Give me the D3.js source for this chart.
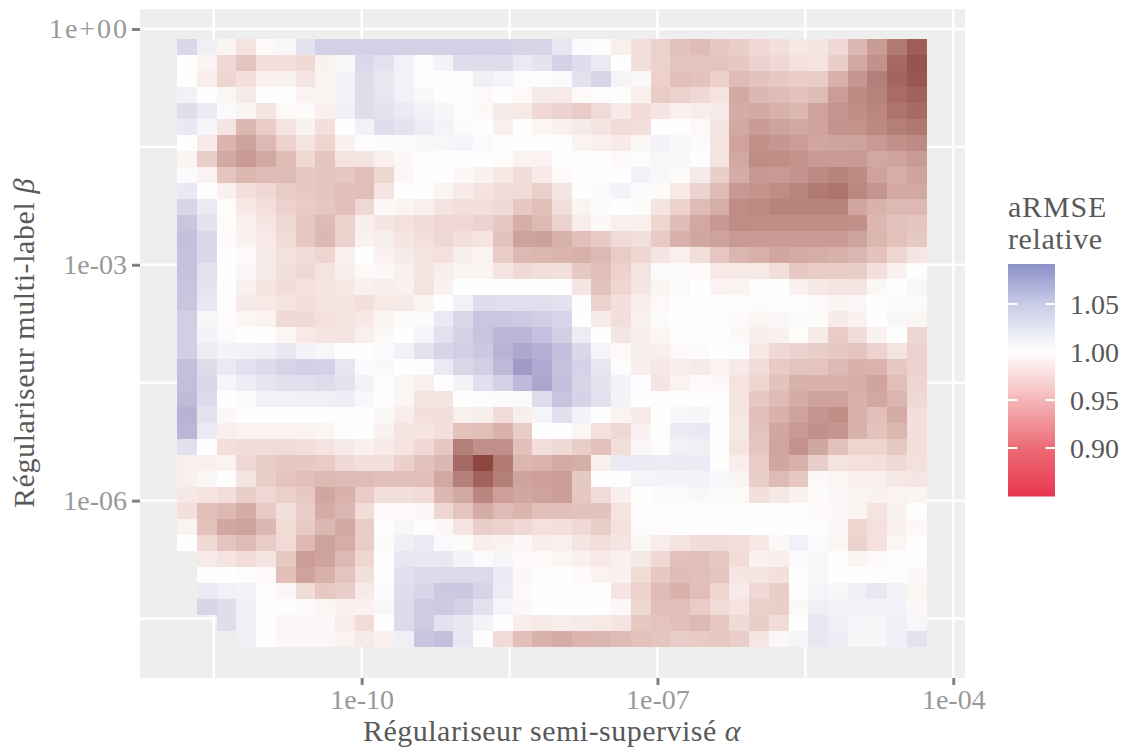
<!DOCTYPE html>
<html>
<head>
<meta charset="utf-8">
<script src="https://cdn.jsdelivr.net/npm/d3@7"></script>
<style>
	html, body { margin: 0; padding: 0; background: #fff; }
	text { font-family: "Liberation Serif", serif; }
</style>
</head>
<body>
<div id="chart"></div>
<script>
"use strict";

// log10 of the two regularisers, one entry per column / row of the heatmap
var alphaExp = [-11.77,-11.57,-11.37,-11.17,-10.97,-10.77,-10.57,-10.37,-10.17,-9.97,-9.77,-9.57,-9.37,-9.17,-8.97,-8.77,-8.57,-8.37,-8.17,-7.97,-7.77,-7.57,-7.37,-7.17,-6.97,-6.77,-6.57,-6.37,-6.17,-5.97,-5.77,-5.57,-5.37,-5.17,-4.97,-4.77,-4.57,-4.37];
var betaExp = [-0.23,-0.43,-0.64,-0.84,-1.04,-1.25,-1.45,-1.65,-1.86,-2.06,-2.26,-2.47,-2.67,-2.87,-3.08,-3.28,-3.49,-3.69,-3.89,-4.1,-4.3,-4.5,-4.71,-4.91,-5.11,-5.32,-5.52,-5.72,-5.93,-6.13,-6.33,-6.54,-6.74,-6.94,-7.15,-7.35,-7.55,-7.76];

// relative aRMSE, written as percent above/below 1.00. null = no cell
var armseGap = [
[3.2,1.2,-0.8,-2.2,-0.4,0.5,2.3,3.8,3.8,3.8,3.8,3.8,3.8,3.8,3.8,3.8,3.8,3.5,3.5,2,0.3,0,-1.2,-2.5,-3.5,-4.8,-5.2,-4.2,-3.8,-3,-2.5,-1.8,-1.9,-3,-5.5,-7.5,-10.5,-13],
[0,-0.8,-3,-4.5,-2.6,-2.5,-3,-1,0.5,3.1,2.3,1.1,0.2,0.9,2.7,2.8,2.7,1.7,2.2,3.7,2.8,1.7,0,-2.5,-3.6,-4.5,-4.6,-4.6,-4.2,-3.4,-3,-2.3,-2.2,-3.8,-6.6,-8.5,-12,-13.8],
[0,-1.4,-3.3,-2.4,-1.1,-1,-2,-0.9,1,2.7,1.8,0.9,0.1,0,0,1.2,0.8,0.2,-0.1,0.4,2.3,3.5,0.8,-0.5,-3.6,-5,-4.7,-3.7,-5.2,-4.7,-4.3,-3.9,-4,-6,-8,-10,-12.3,-13.5],
[1.1,0,-0.7,-1.5,0,0,-0.9,-0.8,0.9,2.7,2,1.1,0.5,0.1,-0.1,-0.4,0,-0.4,-1.5,-1.7,-0.4,0.2,0.1,-1.2,-4,-3.5,-3,-2.2,-6.5,-5.5,-5.2,-4.8,-5.3,-7.4,-9,-9.8,-11.7,-12.6],
[2.7,1.6,0.3,-0.8,-2,-0.4,-0.3,-1.1,1.2,2.7,2.3,1.7,1.1,0.7,0.2,-0.5,-1.5,-1.7,-3,-3.4,-4,-2.8,-1.6,-2.7,-1.9,-1.1,-1.4,-1.5,-6.3,-6.5,-6,-5.5,-7,-8.1,-8.7,-9.4,-11,-11.8],
[1.8,0.7,-2,-5.5,-4,-2.2,-1,-2.4,0,1.1,2.7,2.2,1.5,0.9,0.3,0,-1.2,0,-0.7,-1.1,-1.5,-2.1,-2.7,-2.4,0,0,-0.4,-1.9,-6.6,-7.5,-7,-6.6,-6.9,-8.2,-8.4,-9.2,-10,-10.6],
[0,-1.6,-5.8,-7,-5.4,-3.6,-2.2,-3.3,-1,0.2,0.3,0.4,0.5,0.6,0.8,0.4,0.1,0,0,-0.1,-0.9,-1.2,-1.6,-0.6,1,0.5,0.3,-2.1,-7,-8.5,-7.9,-7.4,-6.8,-6.9,-7,-7.7,-8.5,-9],
[-0.8,-3.8,-6.5,-7.6,-6.6,-5.2,-3,-4.5,-2.2,-2,-1.2,-0.5,-0.2,0,0,0,-0.2,-0.9,-0.9,-0.1,0,0,-0.4,0.2,0.6,0.5,-0.1,-2.1,-6.6,-8.8,-8.7,-8.3,-7.6,-7.6,-7.7,-6.6,-6.9,-7.6],
[0.3,-0.9,-4.5,-5.6,-5.3,-5.3,-4.2,-4.5,-4.4,-5,-3.2,-0.6,-0.1,0,-0.5,-1,-1.8,-2.7,-1.6,-0.4,0,0.2,0,1,0.5,-0.3,-1.5,-3.8,-6.3,-7.8,-7.7,-8.2,-9,-9.7,-8.9,-7,-6.2,-6.9],
[1.8,0,-1.1,-2.4,-3,-4,-4.3,-4.5,-5,-5.1,-2.1,0,0,-0.8,-1.6,-2.2,-2.7,-2.7,-3.7,-2,0,0.4,0.9,0.3,-0.3,-1.7,-3.4,-5.3,-7.8,-8.3,-8.8,-9.5,-10.5,-11,-9.3,-8,-6.5,-6.6],
[3.4,1.7,-0.2,-1.8,-2.5,-3.6,-4,-4.4,-5.1,-3.1,-0.5,-0.8,-1.2,-2,-2.4,-2.6,-2.9,-4.2,-5.1,-2.6,-0.8,0.3,0,-0.3,-2,-3.6,-5.3,-6.2,-8.8,-9.1,-9.7,-9.7,-9.7,-9.7,-6.8,-5.9,-5.4,-5.4],
[4.6,2.3,-0.2,-1.2,-1.9,-3,-4.4,-5.3,-3.5,-1.3,-1.9,-2.3,-2.7,-3.1,-3,-3.4,-4.3,-6.2,-5.4,-3.5,-1.4,-0.5,-1.2,-1.2,-3.2,-5.2,-6.6,-7.8,-8.8,-8.8,-8.8,-8.8,-8.8,-8.8,-8.5,-5.5,-4.8,-4.5],
[5.2,3.2,-0.3,-1,-1.6,-2.8,-4.4,-5.5,-3.5,-1,-1.3,-2.1,-2.5,-3.1,-2.5,-2.1,-4.7,-7,-7.1,-6,-5,-4.1,-2.8,-2.4,-4.1,-6,-6.7,-7,-7.7,-7.5,-7.5,-7.5,-7.5,-7.5,-6.9,-5.6,-4.9,-4.2],
[5,3.1,0,-0.4,-1.5,-2.3,-2.8,-3.3,-1.1,0,-1,-1.5,-2.2,-2.3,-1.3,-0.9,-4,-5.4,-5.6,-5.8,-6,-5.4,-4,-3.2,-2,-1.2,-2.6,-4.4,-5.7,-6,-6.8,-6.4,-6.2,-6,-5.7,-4.7,-3.3,-1.9],
[5,2.4,0,-0.6,-1.5,-2.4,-3,-2.2,-1.3,-0.4,-0.6,-1.1,-2,-1.3,-0.8,-0.8,-2.1,-2.9,-2.6,-2.5,-4.2,-5,-3.6,-2.2,-0.3,0.3,-0.4,-1.7,-1.7,-1.7,-2.6,-4.2,-4,-4,-3.8,-2.4,-1.1,-0.1],
[4.9,2.2,0,-1,-2,-2.7,-2.3,-2,-1.8,-1.1,-1.4,-1.1,-2.2,-1,0,0,0,0,0,0,-1.9,-4.8,-3.2,-1.9,-0.8,0.4,0,-0.9,-0.9,-0.2,0,-1.1,-1.8,-2,-2,-0.6,0,0.6],
[4.6,1.9,-0.1,-1.5,-1.7,-2.2,-2.6,-2.2,-1.9,-2.4,-1.7,-1.7,-0.8,0,1.1,2.8,2.6,2.6,2.6,2.3,-0.1,-3.5,-2.4,-1.3,-0.4,0,0,-0.1,-0.2,-0.2,-0.1,-0.1,-0.4,-0.8,-0.6,0,0.3,0.3],
[4,0.6,-0.2,-0.7,-0.9,-2.9,-2.9,-2.3,-2,-1.8,-0.8,-0.3,0.3,1.7,3.2,4.7,4.6,4.4,4,3.4,0,-1.5,-2.6,-1.1,-0.3,0,0,-0.1,-0.3,-0.7,-0.6,0.3,-0.3,-1.5,-1,0,0.5,-0.7],
[4,0.9,0.4,0,0,-0.7,-1.7,-2.1,-2.1,-1.2,-0.5,0,0.8,2.4,3.7,4.9,5.9,6,5.1,3.9,1.5,0,-1.9,-1.3,-0.7,-0.2,0,0,-0.5,-1.3,-1,-0.2,-1.5,-4,-2.7,-1,0,-3.2],
[4,1.5,0.9,1,1.2,1.8,0.9,0.6,0,0,0.3,1.1,2.3,3.4,3.9,4.5,6.2,7.2,6.5,5.2,3.1,0.8,-0.4,-1.3,-1.2,-0.4,-0.3,0,-0.1,-1.8,-3,-3.4,-3.8,-4.2,-4.6,-3.4,-2.2,-3.6],
[5.2,2.9,1.7,2.4,3,3.5,3.9,3.7,2,0.3,-0.5,0,0.2,1.7,3.2,3.9,5.6,8.3,7,5.1,3.6,2,0.2,-1.3,-1.8,-1.3,-1.5,-0.9,-1.5,-2.7,-4.1,-4.5,-4.6,-5.4,-5.9,-5.8,-4.4,-3.4],
[5.3,3.2,0.7,1.4,2.1,2.5,2.5,2.8,2.3,1,0.1,-0.7,-1.2,0,0.9,2.5,3.8,5.6,7.3,5.2,3.4,2.2,1,0,-1.9,-0.9,-0.4,-0.5,-2.2,-3.3,-4.7,-5.9,-5.9,-5.9,-6.2,-6.9,-5.1,-3.3],
[5.6,3,0,0.3,1.1,1.1,1.2,1.2,1.4,0.5,0,-0.7,-2,-2,0,0.2,0.3,0.4,2.9,4.9,3.6,2.4,0.9,0,0,0,0,0,-2.1,-4.3,-5.3,-6.4,-7,-7,-5.9,-6.6,-5.7,-3],
[6.3,2.3,-0.5,0,0,0,0,0,0,0,-0.5,-1.4,-2.5,-2.6,-1.2,-1.3,-2.7,-1.3,0.8,2.5,1,0,-0.9,-1.5,0,0.5,0.7,0,-1.9,-5,-5.9,-7,-8,-8.7,-6,-5,-6.4,-2.6],
[6,1.7,-1.2,-0.9,-0.9,-0.9,-0.9,-0.7,-0.1,0,-1,-2,-2.1,-2.5,-4.8,-5.1,-5.9,-3.9,0,-0.1,-0.7,-2.3,-3.1,-1.1,0.1,1.6,1.8,0,-1.8,-4.7,-6.7,-7.7,-8.5,-7.9,-6,-4.7,-5.6,-2.5],
[2.5,0,-2.4,-2.7,-2.7,-2.7,-2.5,-2.1,-1.5,-1.1,-1.6,-2.2,-3,-4.4,-10,-8.6,-8.6,-5,-2.6,-2.9,-3.9,-4.9,-2.6,-0.6,0.2,1.1,1.2,0,-2,-4.5,-6.8,-8.4,-6.7,-4.8,-3.3,-3.3,-4.2,-2.4],
[-1.2,-1.2,-0.9,-3.1,-3.9,-4.4,-4.2,-4,-2.9,-2.4,-2.4,-3.7,-4.8,-5.5,-12,-15,-10.5,-5.6,-5.8,-6.4,-6.2,-1.2,1.7,1.6,1.5,1.6,1.6,0,-1.4,-4,-6.8,-6,-3.8,-2.2,-2.3,-2.5,-2.9,-2.3],
[-1.2,-0.6,0,-2,-3.8,-4.6,-5,-5.4,-5.3,-5.2,-5,-5,-5,-6.6,-9.9,-12.6,-10,-6.9,-7.2,-7.4,-4.2,0,0,0.8,0.9,0.9,1,0.5,-0.8,-3.8,-5.3,-4.3,-0.5,-0.7,-1.2,-1.2,-1.8,-1.9],
[-1.8,-2.1,-2.6,-3.8,-3.1,-3.7,-4.2,-6.8,-5.9,-4,-2.5,-2.5,-2.7,-5.5,-6.6,-9.4,-7.2,-6.7,-7,-7.3,-4.4,-2.8,-1.3,0,0.3,0.4,0.5,0.3,-0.4,-2.4,-1.8,-1,-0.3,-0.6,-0.8,-1,-0.9,-0.8],
[-2.5,-5,-5.4,-6.3,-4.1,-2.4,-3.9,-6.3,-5.7,-2.7,-0.4,-0.4,-0.6,-3.2,-4.5,-6.4,-5.3,-5.8,-5,-5,-4.7,-4.7,-2.2,0,0,0,0,0,0,0,0,-0.1,-0.4,-0.5,-0.8,-2.2,-1,0],
[-0.9,-4.7,-6.7,-6.9,-5.5,-2.8,-4.1,-5.5,-6.5,-3.9,0,0.6,0.2,-0.5,-2.1,-3.8,-3.6,-3,-2.3,-2.5,-3,-3.9,-2.3,-0.2,-0.2,-0.1,-0.1,-0.1,0,0,0,0,0,-0.5,-3.2,-2.3,-1.1,-0.5],
[0,-3,-4.5,-5.3,-4,-2.8,-5.4,-7,-6.2,-3.9,-0.4,1.2,1.7,0.4,-0.3,-1.3,-1,-0.5,-1.3,-1.2,-2,-2.6,-2,-0.6,-1.4,-2.1,-2.7,-2.7,-2.6,-1.8,-0.5,1.1,0.3,-0.7,-3.5,-2.3,-0.7,0],
[null,-1.5,-2.1,-2.7,-2.1,-4.2,-7.4,-6.9,-5.4,-3.2,0,2,1.8,1.9,0.9,0.3,0.7,-0.4,-0.4,-0.7,-1.1,-1.6,-1.1,-1.8,-3,-4.9,-5.1,-4.3,-2.7,-1,-1.3,0.4,0.6,-0.1,-0.8,-0.4,0,0],
[null,0,0,-0.2,-0.4,-5,-7,-6,-4.6,-2.4,0,2.5,3,3,3,3,1.6,-0.5,0,0,-0.4,-0.9,-1.1,-2.8,-4.3,-5.2,-5.1,-4.5,-1.9,-2,-2.5,0,0.6,0,0,0,0.2,-0.5],
[null,1.7,1.1,0.9,0.2,-0.6,-2.7,-4.3,-3.9,-1.6,0.3,2.7,3.4,4.5,4.5,3.5,1.5,-0.4,0,0,0,0,-2.1,-3.6,-5.2,-5.9,-5.1,-3.3,-1.5,-3,-3.9,-0.1,0.8,0.6,1.2,1.9,0.9,-0.7],
[null,3.4,2.7,1.2,0,0,-0.3,-0.7,-1.1,-1,0.6,3,4.2,4.3,3.8,2.4,0.8,-0.5,0,0,0,0,-0.5,-3.2,-5,-5.1,-4,-2.8,-2.2,-3.7,-3.8,-0.5,1.2,1.1,1,1,1,-0.5],
[null,null,2.7,1.2,0,-0.6,-0.6,-0.5,-1.4,-2.7,0,3,4.2,2.3,1.9,0.9,0,-1.4,-1.7,-1.4,-1.5,-1.7,-2.1,-4.3,-4.6,-5,-5.4,-4.4,-2.9,-3.8,-2.7,0,1.9,1.2,0.8,0.7,1.2,0.6],
[null,null,null,1.2,0,-0.6,-0.6,-0.6,-0.9,-1.6,-1.1,1.2,4.8,5.2,2,-0.1,-2.8,-5,-6,-6.4,-5.8,-5.7,-5.2,-4.8,-4.5,-3.9,-4.1,-4.4,-3.8,-1.9,-0.6,0.8,2,1.5,0.7,0.7,1.3,2.3]
];

// colourbar ticks
var legendTicks = [0.9, 0.95, 1, 1.05];

// == BOILERPLATE ==
var width = 1128, height = 753;
var panel = { left: 140, right: 965, top: 9, bottom: 678 };

var svg = d3.select("#chart")
	.append("svg")
	.attr("width", width)
	.attr("height", height)
	.style("display", "block");

var x = d3.scaleLog()
	.domain([Math.pow(10, -12.248), Math.pow(10, -3.881)])
	.range([panel.left, panel.right]);
var y = d3.scaleLog()
	.domain([Math.pow(10, 0.254), Math.pow(10, -8.257)])
	.range([panel.top, panel.bottom]);

// tiles sit on even steps of the log axes, so a band scale between the outer edges is enough
var xBand = d3.scaleBand().domain(alphaExp)
	.range([x(Math.pow(10, -11.87)), x(Math.pow(10, -4.27))]);
var yBand = d3.scaleBand().domain(betaExp)
	.range([y(Math.pow(10, -0.127)), y(Math.pow(10, -7.86))]);

// the tiles are muted compared to the colourbar, so they get their own scale
var tileColor = d3.scaleLinear()
	.domain([0.85, 0.925, 0.95, 0.975, 1, 1.09])
	.range(["#8e4640", "#c99c95", "#e2bfb9", "#f3dfdb", "#fefefe", "#9a91c4"]);
var legendColor = d3.scaleLinear()
	.domain([0.85, 0.9, 0.95, 1, 1.05, 1.0917])
	.range(["#e8384f", "#ec6b75", "#f4b6b7", "#ffffff", "#c9cce6", "#8a90c8"]);

// panel + grid
svg.append("rect")
	.attr("x", panel.left)
	.attr("y", panel.top)
	.attr("width", panel.right - panel.left)
	.attr("height", panel.bottom - panel.top)
	.attr("fill", "#eeeeee");

var xGrid = [-11.5, -10, -8.5, -7, -5.5, -4];
var yGrid = [0, -1.5, -3, -4.5, -6, -7.5];

svg.selectAll(".vgrid").data(xGrid).enter().append("line")
	.attr("x1", function (d) { return x(Math.pow(10, d)); })
	.attr("x2", function (d) { return x(Math.pow(10, d)); })
	.attr("y1", panel.top)
	.attr("y2", panel.bottom)
	.attr("stroke", "#fff")
	.attr("stroke-width", 2.4);
svg.selectAll(".hgrid").data(yGrid).enter().append("line")
	.attr("y1", function (d) { return y(Math.pow(10, d)); })
	.attr("y2", function (d) { return y(Math.pow(10, d)); })
	.attr("x1", panel.left)
	.attr("x2", panel.right)
	.attr("stroke", "#fff")
	.attr("stroke-width", 2.4);

// heatmap
var cells = [];
armseGap.forEach(function (row, r) {
	row.forEach(function (gap, c) {
		if (gap !== null) cells.push({ alpha: alphaExp[c], beta: betaExp[r], value: 1 + gap / 100 });
	});
});

svg.append("g").selectAll("rect")
	.data(cells)
	.enter().append("rect")
	.attr("x", function (d) { return xBand(d.alpha); })
	.attr("y", function (d) { return yBand(d.beta); })
	.attr("width", xBand.bandwidth())
	.attr("height", yBand.bandwidth())
	.attr("shape-rendering", "crispEdges")
	.attr("fill", function (d) { return tileColor(d.value); });

// axes
var xAxis = d3.axisBottom(x)
	.tickValues([1e-10, 1e-7, 1e-4])
	.tickFormat(function (d) { return d3.format(".0e")(d).replace(/e-(\d)$/, "e-0$1"); })
	.tickSize(7)
	.tickPadding(4);
var yAxis = d3.axisLeft(y)
	.tickValues([1, 1e-3, 1e-6])
	.tickFormat(function (d) {
		return d === 1 ? "1e+00" : d3.format(".0e")(d).replace(/e-(\d)$/, "e-0$1");
	})
	.tickSize(8)
	.tickPadding(5);

function styleAxis(g) {
	g.select(".domain").remove();
	g.selectAll("line").attr("stroke", "#808080").attr("stroke-width", 3);
	g.selectAll("text")
		.attr("fill", "#999999")
		.style("font-family", '"Liberation Serif", serif')
		.style("font-size", "28px");
}

svg.append("g").attr("transform", "translate(0," + panel.bottom + ")").call(xAxis).call(styleAxis);
var yAxisG = svg.append("g").attr("transform", "translate(" + panel.left + ",0)").call(yAxis).call(styleAxis);

// the plus sign is much wider in the original font
yAxisG.selectAll("text")
	.filter(function (d) { return d === 1; })
	.attr("textLength", 78);

// axis titles
var xTitle = svg.append("text")
	.attr("x", 552)
	.attr("y", 741)
	.attr("text-anchor", "middle")
	.attr("fill", "#595959")
	.style("font-size", "30px")
	.style("letter-spacing", "0.48px");
xTitle.append("tspan").text("Régulariseur semi-supervisé ");
xTitle.append("tspan").attr("font-style", "italic").text("α");

var yTitle = svg.append("text")
	.attr("transform", "translate(34,343) rotate(-90)")
	.attr("text-anchor", "middle")
	.attr("fill", "#595959")
	.style("font-size", "30px")
	.style("letter-spacing", "0.58px");
yTitle.append("tspan").text("Régulariseur multi-label ");
yTitle.append("tspan").attr("font-style", "italic").text("β");

// legend
var legend = { left: 1008, right: 1055, top: 264, bottom: 496 };
var legendY = d3.scaleLinear()
	.domain([0.85, 1.0917])
	.range([legend.bottom, legend.top]);

svg.append("text").attr("x", legend.left).attr("y", 217)
	.attr("fill", "#595959").style("font-size", "30px").style("letter-spacing", "0.8px").text("aRMSE");
svg.append("text").attr("x", legend.left).attr("y", 249)
	.attr("fill", "#595959").style("font-size", "30px").style("letter-spacing", "0.6px").text("relative");

svg.append("g").selectAll("rect")
	.data(d3.range(0, 116))
	.enter().append("rect")
	.attr("x", legend.left)
	.attr("width", legend.right - legend.left)
	.attr("y", function (i) { return legend.top + i * 2; })
	.attr("height", 2.5)
	.attr("fill", function (i) { return legendColor(legendY.invert(legend.top + i * 2 + 1)); });

var lt = svg.append("g").selectAll("g").data(legendTicks).enter().append("g")
	.attr("transform", function (d) { return "translate(0," + legendY(d) + ")"; });
lt.append("line").attr("x1", legend.left).attr("x2", legend.left + 9.4)
	.attr("stroke", "#fff").attr("stroke-width", 2);
lt.append("line").attr("x1", legend.right - 9.4).attr("x2", legend.right)
	.attr("stroke", "#fff").attr("stroke-width", 2);
lt.append("text")
	.attr("x", 1070)
	.attr("dy", "0.34em")
	.attr("fill", "#595959")
	.style("font-size", "28px")
	.text(function (d) { return d3.format(".2f")(d); });
</script>
</body>
</html>
